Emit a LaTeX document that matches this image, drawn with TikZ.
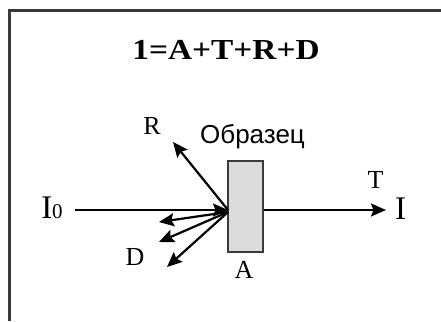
\documentclass[tikz,border=0pt]{standalone}
\usepackage{fontspec}
\setmainfont{Liberation Serif}
\newfontfamily\sansfont{Liberation Sans}
\newfontfamily\titlefont[FakeStretch=1.15]{Liberation Serif}
\usepackage{xcolor}
\usetikzlibrary{arrows.meta,positioning}
\definecolor{framegray}{HTML}{3A3A3A}
\definecolor{boxgray}{HTML}{DCDCDC}

\begin{document}
\begin{tikzpicture}[x=1pt,y=-1pt,
    ray/.style={line width=2.2pt,-{Stealth[length=15pt,width=13pt,inset=2.5pt]}},
    lbl/.style={inner sep=0pt,font=\fontsize{26}{26}\selectfont}]
            \useasboundingbox (0,0) rectangle (441,321);
            % Frame
            \draw[framegray,line width=3pt] (9.5,321) -- (9.5,10.5) -- (441,10.5);
            
            % Title
            \node[inner sep=0pt] (title) at (226,50) {\titlefont\bfseries\fontsize{29}{29}\selectfont 1=A+T+R+D};
            
            % Sample
            \node[draw=framegray,fill=boxgray,line width=2pt,minimum width=35pt,minimum height=91pt,inner sep=0pt] (sample) at (245.5,206.5) {};
            \node[inner sep=0pt] (name) at (252.5,137) {\sansfont\fontsize{26}{26}\selectfont Образец};
            \node[lbl] (a) at (244,270) {A};
            
            % Beams
            \coordinate (hit) at (228,210);
            \coordinate (hitd) at (228,212);
            \coordinate (src) at (75,210);
            \coordinate (dst) at (386,210);
            \coordinate (r) at (173,142);
            \coordinate (d1) at (159,222);
            \coordinate (d2) at (159,242);
            \coordinate (d3) at (167,267);
            
            \draw[ray] (src) -- (hit);
            \draw[ray] (sample.east |- hit) -- (dst);
            \draw[ray] (hit) -- (r);
            \draw[ray] (hitd) -- (d1);
            \draw[ray] (hitd) -- (d2);
            \draw[ray] (hitd) -- (d3);
            
            % Labels
            \node[inner sep=0pt] (i0) at (52,208) {\fontsize{33}{33}\selectfont I\fontsize{21}{21}\selectfont 0};
            \node[inner sep=0pt] (i) at (400.5,209) {\fontsize{33}{33}\selectfont I};
            \node[lbl] (t) at (375.5,180) {T};
            \node[lbl] (rl) at (152,126) {R};
            \node[lbl] (dl) at (135,257) {D};
        \end{tikzpicture}
\end{document}
